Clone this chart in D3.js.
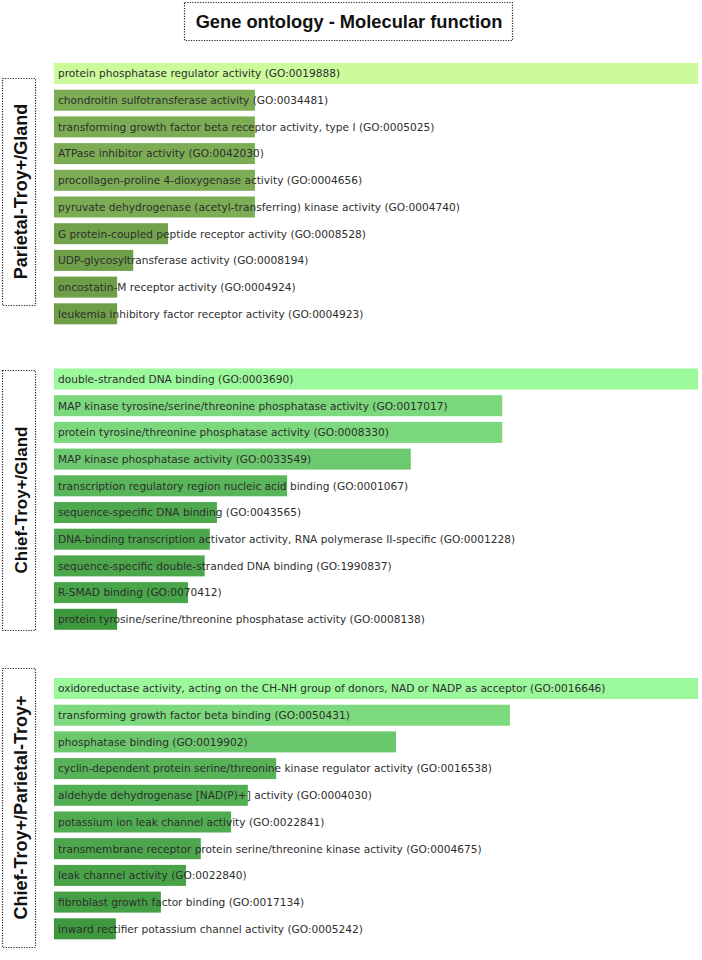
<!DOCTYPE html>
<html>
<head>
<meta charset="utf-8">
<script src="https://cdn.jsdelivr.net/npm/d3@7"></script>
<style>
  html, body { margin: 0; padding: 0; background: #fff; }
  svg { display: block; }
</style>
</head>
<body>
<svg id="chart" width="702" height="960"></svg>
<script>
// ---------- DATA ----------
const chartTitle = "Gene ontology - Molecular function";

const panelNames = ["Parietal-Troy+/Gland", "Chief-Troy+/Gland", "Chief-Troy+/Parietal-Troy+"];

const termsParietalGland = [
  "protein phosphatase regulator activity (GO:0019888)",
  "chondroitin sulfotransferase activity (GO:0034481)",
  "transforming growth factor beta receptor activity, type I (GO:0005025)",
  "ATPase inhibitor activity (GO:0042030)",
  "procollagen-proline 4-dioxygenase activity (GO:0004656)",
  "pyruvate dehydrogenase (acetyl-transferring) kinase activity (GO:0004740)",
  "G protein-coupled peptide receptor activity (GO:0008528)",
  "UDP-glycosyltransferase activity (GO:0008194)",
  "oncostatin-M receptor activity (GO:0004924)",
  "leukemia inhibitory factor receptor activity (GO:0004923)"
];
const valuesParietalGland = [100, 31.2, 31.2, 31.2, 31.2, 31.2, 17.7, 12.3, 9.8, 9.8];

const termsChiefGland = [
  "double-stranded DNA binding (GO:0003690)",
  "MAP kinase tyrosine/serine/threonine phosphatase activity (GO:0017017)",
  "protein tyrosine/threonine phosphatase activity (GO:0008330)",
  "MAP kinase phosphatase activity (GO:0033549)",
  "transcription regulatory region nucleic acid binding (GO:0001067)",
  "sequence-specific DNA binding (GO:0043565)",
  "DNA-binding transcription activator activity, RNA polymerase II-specific (GO:0001228)",
  "sequence-specific double-stranded DNA binding (GO:1990837)",
  "R-SMAD binding (GO:0070412)",
  "protein tyrosine/serine/threonine phosphatase activity (GO:0008138)"
];
const valuesChiefGland = [100, 69.6, 69.6, 55.4, 36.2, 25.3, 24.2, 23.4, 20.8, 9.8];

const termsChiefParietal = [
  "oxidoreductase activity, acting on the CH-NH group of donors, NAD or NADP as acceptor (GO:0016646)",
  "transforming growth factor beta binding (GO:0050431)",
  "phosphatase binding (GO:0019902)",
  "cyclin-dependent protein serine/threonine kinase regulator activity (GO:0016538)",
  "aldehyde dehydrogenase [NAD(P)+] activity (GO:0004030)",
  "potassium ion leak channel activity (GO:0022841)",
  "transmembrane receptor protein serine/threonine kinase activity (GO:0004675)",
  "leak channel activity (GO:0022840)",
  "fibroblast growth factor binding (GO:0017134)",
  "inward rectifier potassium channel activity (GO:0005242)"
];
const valuesChiefParietal = [100, 70.8, 53.1, 34.5, 30.1, 27.5, 22.8, 20.5, 16.6, 9.6];

// ---------- LAYOUT / STYLE ----------
const panels = [
  { name: panelNames[0], terms: termsParietalGland, values: valuesParietalGland,
    top: 63, box: [78, 305], light: "#cbfb9b", dark: "#6e9f48", exponent: 1.5, labelSize: 18 },
  { name: panelNames[1], terms: termsChiefGland, values: valuesChiefGland,
    top: 368.5, box: [370, 630], light: "#9bf89b", dark: "#3e993e", exponent: 1, labelSize: 17 },
  { name: panelNames[2], terms: termsChiefParietal, values: valuesChiefParietal,
    top: 678, box: [668, 947], light: "#9bf89b", dark: "#3e993e", exponent: 1, labelSize: 18 }
];

const svg = d3.select("#chart");
const barLeft = 54, barRight = 698;
const step = 26.7, bandH = 21;

// Title
const titleG = svg.append("g");
titleG.append("rect")
  .attr("x", 184.5).attr("y", 2.5).attr("width", 328).attr("height", 38)
  .attr("fill", "none").attr("stroke", "#222").attr("stroke-width", 1.2)
  .attr("stroke-dasharray", "1.2,1.4");
titleG.append("text")
  .attr("x", 349).attr("y", 27.5)
  .attr("text-anchor", "middle")
  .attr("font-family", "'Liberation Sans', Arial, Helvetica, sans-serif")
  .attr("font-weight", "bold").attr("font-size", 18.3)
  .attr("fill", "#111")
  .text(chartTitle);

panels.forEach(p => {
  const n = p.terms.length;
  const data = p.terms.map((t, i) => ({ term: t, value: p.values[i] }));
  const x = d3.scaleLinear().domain([0, d3.max(p.values)]).range([barLeft, barRight]);
  const pad = 1 - bandH / step;
  const y = d3.scaleBand().domain(p.terms)
    .range([p.top, p.top + (n - 1) * step + bandH])
    .paddingInner(pad).paddingOuter(0);
  const color = d3.scalePow().exponent(p.exponent)
    .domain([d3.min(p.values), d3.max(p.values)])
    .range([p.dark, p.light])
    .interpolate(d3.interpolateRgb);

  const g = svg.append("g");
  g.selectAll("rect.bar").data(data).join("rect")
    .attr("class", "bar")
    .attr("x", x(0))
    .attr("y", d => y(d.term))
    .attr("width", d => x(d.value) - x(0))
    .attr("height", y.bandwidth())
    .attr("fill", d => color(d.value));

  g.selectAll("text.lab").data(data).join("text")
    .attr("class", "lab")
    .attr("x", x(0) + 4)
    .attr("y", d => y(d.term) + y.bandwidth() / 2 + 3.8)
    .attr("font-family", "'DejaVu Sans', Verdana, sans-serif")
    .attr("font-size", 10.6)
    .attr("fill", "#2e2e2e")
    .text(d => d.term);

  // side label box
  g.append("rect")
    .attr("x", 2.5).attr("y", p.box[0] + 0.5)
    .attr("width", 33).attr("height", p.box[1] - p.box[0])
    .attr("fill", "none").attr("stroke", "#222").attr("stroke-width", 1.2)
    .attr("stroke-dasharray", "1.2,1.4");
  const cy = (p.box[0] + p.box[1]) / 2;
  g.append("text")
    .attr("transform", `translate(26.5,${cy}) rotate(-90)`)
    .attr("text-anchor", "middle")
    .attr("font-family", "'Liberation Sans', Arial, Helvetica, sans-serif")
    .attr("font-weight", "bold").attr("font-size", p.labelSize)
    .attr("fill", "#111")
    .text(p.name);
});
</script>
</body>
</html>
